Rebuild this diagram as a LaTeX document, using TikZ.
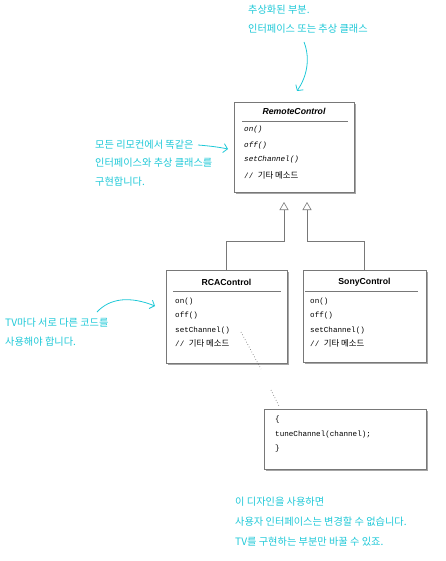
\documentclass[tikz,border=0pt]{standalone}
\usepackage{fontspec}
\setmainfont{Liberation Sans}
\setmonofont{Liberation Mono}
\newfontfamily\kofont{Noto Sans CJK KR}
\usetikzlibrary{arrows.meta,shadows}
\definecolor{note}{RGB}{30,200,215}
\definecolor{boxline}{RGB}{120,120,120}
\tikzset{
  umlbox/.style={draw=boxline, line width=0.6pt, fill=white, inner sep=0pt,
    drop shadow={shadow xshift=1.6pt, shadow yshift=-1.6pt, fill=black!35, opacity=1}},
  sepline/.style={draw=boxline, line width=0.5pt},
  title/.style={font=\fontsize{8.7}{10}\selectfont\bfseries, inner sep=0pt},
  meth/.style={font=\fontsize{7.6}{9}\ttfamily, anchor=west, inner sep=0pt},
  inh/.style={draw=boxline, line width=0.6pt, -{Triangle[open, width=9pt, length=8pt]}},
  dotline/.style={draw=black!60, line width=0.7pt, dash pattern=on 0.6pt off 2.2pt},
  notetext/.style={font=\fontsize{10.2}{12}\kofont, text=note, anchor=west, inner sep=0pt},
  notearrow/.style={draw=note, line width=0.8pt, -{Straight Barb[length=4pt, width=9pt]}}
}
\newcommand{\kor}[1]{{\kofont\fontsize{8.4}{9}\selectfont #1}}
\begin{document}
\begin{tikzpicture}[x=1pt,y=-1pt]
\useasboundingbox (0,0) rectangle (445,561);
% boxes
\node[umlbox, minimum width=120pt, minimum height=90pt] (rc) at (294,147) {};
\node[umlbox, minimum width=121pt, minimum height=93pt] (rca) at (226.5,316.5) {};
\node[umlbox, minimum width=123pt, minimum height=92pt] (sony) at (364.5,316) {};
\node[umlbox, minimum width=162pt, minimum height=60pt] (code) at (345,439) {};
% RemoteControl
\node[title, font=\fontsize{8.7}{10}\selectfont\bfseries\itshape] (rct) at (294,111) {RemoteControl};
\draw[sepline] (242,121) -- (348,121);
\node[meth, font=\fontsize{7.6}{9}\ttfamily\itshape] (rc1) at (244,129.5) {on()};
\node[meth, font=\fontsize{7.6}{9}\ttfamily\itshape] (rc2) at (244,145.3) {off()};
\node[meth, font=\fontsize{7.6}{9}\ttfamily\itshape] (rc3) at (244,159.8) {setChannel()};
\node[meth] (rc4) at (244,175) {// \kor{기타 메소드}};
% RCAControl
\node[title] (rcat) at (226.5,282) {RCAControl};
\draw[sepline] (173,291) -- (281,291);
\node[meth] (rca1) at (175,301.5) {on()};
\node[meth] (rca2) at (175,316) {off()};
\node[meth] (rca3) at (175,330.3) {setChannel()};
\node[meth] (rca4) at (175,343.5) {// \kor{기타 메소드}};
% SonyControl
\node[title] (sonyt) at (364.5,282) {SonyControl};
\draw[sepline] (305,291) -- (418,291);
\node[meth] (s1) at (310,301.5) {on()};
\node[meth] (s2) at (310,316) {off()};
\node[meth] (s3) at (310,330.3) {setChannel()};
\node[meth] (s4) at (310,343.5) {// \kor{기타 메소드}};
% code box
\node[meth] (c1) at (275,420) {\{};
\node[meth] (c2) at (275,435) {tuneChannel(channel);};
\node[meth] (c3) at (275,449) {\}};
% inheritance
\coordinate (t1) at (284,202);
\coordinate (t2) at (307,202);
\draw[inh] (rca.north) -- ++(0,-28) -| (t1);
\draw[inh] (sony.north) -- ++(0,-28) -| (t2);
% dotted link
\coordinate (d1) at (241,332);
\coordinate (d2) at (261,369);
\coordinate (d3) at (271,390);
\coordinate (d4) at (279,406);
\draw[dotline] (d1) -- (d2) (d3) -- (d4);
% notes
\node[notetext] (n1a) at (248,10) {추상화된 부분.};
\node[notetext] (n1b) at (248,29) {인터페이스 또는 추상 클래스};
\coordinate (a1s) at (304,42);
\coordinate (a1e) at (297,91);
\draw[notearrow] (a1s) .. controls (311,60) and (306,78) .. (a1e);
\node[notetext] (n2a) at (95,145) {모든 리모컨에서 똑같은};
\node[notetext] (n2b) at (95,163) {인터페이스와 추상 클래스를};
\node[notetext] (n2c) at (95,182) {구현합니다.};
\coordinate (a2s) at (198,145);
\coordinate (a2e) at (228,149);
\draw[notearrow] (a2s) .. controls (210,146) and (218,147) .. (a2e);
\node[notetext] (n3a) at (5,323) {TV마다 서로 다른 코드를};
\node[notetext] (n3b) at (5,342) {사용해야 합니다.};
\coordinate (a3s) at (97,312);
\coordinate (a3e) at (155,306);
\draw[notearrow] (a3s) .. controls (110,298) and (130,296) .. (a3e);
\node[notetext] (n4a) at (235,502) {이 디자인을 사용하면};
\node[notetext] (n4b) at (235,522) {사용자 인터페이스는 변경할 수 없습니다.};
\node[notetext] (n4c) at (235,542) {TV를 구현하는 부분만 바꿀 수 있죠.};
\end{tikzpicture}
\end{document}
